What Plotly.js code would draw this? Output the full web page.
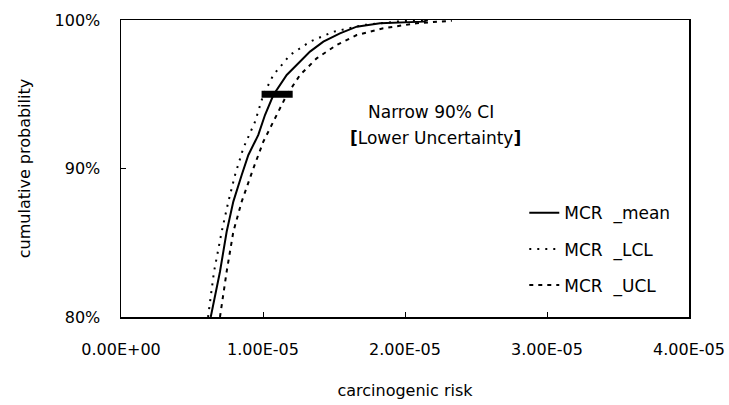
<!DOCTYPE html>
<html>
<head>
<meta charset="utf-8">
<script src="https://cdn.plot.ly/plotly-3.0.1.min.js"></script>
<style>html,body{margin:0;padding:0;background:#fff;}#chart{width:729px;height:405px;}</style>
</head>
<body>
<div id="chart"></div>
<script>
// Cumulative probability (fraction)
const meanProb = [0.800, 0.8305, 0.8574, 0.8777, 0.8956, 0.9091, 0.9226, 0.9360, 0.9495, 0.9630, 0.9697, 0.9787, 0.9854, 0.9910, 0.9955, 0.9978, 0.9989, 1.000];
const meanRisk = [6.32e-6, 6.97e-6, 7.44e-6, 7.91e-6, 8.50e-6, 8.97e-6, 9.67e-6, 1.014e-5, 1.073e-5, 1.167e-5, 1.237e-5, 1.331e-5, 1.425e-5, 1.542e-5, 1.660e-5, 1.824e-5, 2.130e-5, 2.160e-5];

const lclProb = [0.800, 0.8305, 0.8574, 0.8777, 0.8956, 0.9136, 0.9315, 0.9495, 0.9630, 0.9764, 0.9854, 0.9921, 0.9966, 0.9989, 1.000];
const lclRisk = [6.13e-6, 6.55e-6, 7.09e-6, 7.56e-6, 8.03e-6, 8.61e-6, 9.44e-6, 1.002e-5, 1.073e-5, 1.190e-5, 1.331e-5, 1.495e-5, 1.706e-5, 1.940e-5, 2.130e-5];

const uclProb = [0.800, 0.8305, 0.8574, 0.8777, 0.9000, 0.9180, 0.9360, 0.9495, 0.9630, 0.9742, 0.9832, 0.9899, 0.9944, 0.9978, 0.9989, 0.9995];
const uclRisk = [6.97e-6, 7.44e-6, 7.91e-6, 8.50e-6, 9.32e-6, 1.002e-5, 1.096e-5, 1.167e-5, 1.261e-5, 1.378e-5, 1.519e-5, 1.660e-5, 1.847e-5, 2.082e-5, 2.246e-5, 2.330e-5];

// 90% CI bar at the 95th percentile
const ciRisk = [9.9e-6, 1.209e-5];
const ciProb = [0.95, 0.95];

const xTickVals = [0, 1e-5, 2e-5, 3e-5, 4e-5];
const xTickText = ['0.00E+00', '1.00E-05', '2.00E-05', '3.00E-05', '4.00E-05'];
const yTickVals = [0.8, 0.9, 1.0];
const yTickText = ['80%', '90%', '100%'];

const FONT = 'DejaVu Sans, Liberation Sans, Arial, sans-serif';

const traces = [
  {x: meanRisk, y: meanProb, name: 'MCR  _mean', mode: 'lines', legendgroup: 'a',
   line: {color: '#000', width: 2}},
  {x: lclRisk, y: lclProb, name: 'MCR  _LCL', mode: 'lines', legendgroup: 'b',
   line: {color: '#000', width: 2, dash: '2px,6px'}},
  {x: uclRisk, y: uclProb, name: 'MCR  _UCL', mode: 'lines', legendgroup: 'c',
   line: {color: '#000', width: 2, dash: '4px,5px'}},
  {x: ciRisk, y: ciProb, mode: 'lines', showlegend: false, hoverinfo: 'skip',
   line: {color: '#000', width: 7}}
];

const layout = {
  width: 729, height: 405,
  margin: {l: 121, r: 40, t: 20, b: 88, pad: 0},
  paper_bgcolor: '#fff', plot_bgcolor: '#fff',
  font: {family: FONT, size: 16, color: '#000'},
  showlegend: true,
  legend: {x: 0.71, y: 0.41, xanchor: 'left', yanchor: 'top',
           bgcolor: 'rgba(0,0,0,0)', borderwidth: 0,
           font: {family: FONT, size: 17, color: '#000'},
           tracegroupgap: 11},
  xaxis: {range: [0, 4e-5], tickvals: xTickVals, ticktext: xTickText,
          ticks: 'inside', ticklen: 5, tickcolor: '#000', tickwidth: 1,
          showline: true, linecolor: '#000', linewidth: 1.5, mirror: true,
          showgrid: false, zeroline: false, ticklabelstandoff: 17,
          tickfont: {family: FONT, size: 16},
          title: {text: 'carcinogenic risk', font: {family: FONT, size: 16}, standoff: 27}},
  yaxis: {range: [0.8, 1.0], tickvals: yTickVals, ticktext: yTickText,
          ticks: 'inside', ticklen: 5, tickcolor: '#000', tickwidth: 1,
          showline: true, linecolor: '#000', linewidth: 1.5, mirror: true,
          showgrid: false, zeroline: false, ticklabelstandoff: 16,
          tickfont: {family: FONT, size: 16},
          title: {text: 'cumulative probability', font: {family: FONT, size: 16}, standoff: 20}},
  annotations: [
    {xref: 'paper', yref: 'paper', x: 0.546, y: 0.69, text: 'Narrow 90% CI', showarrow: false,
     font: {family: FONT, size: 17}, xanchor: 'center', yanchor: 'middle'},
    {xref: 'paper', yref: 'paper', x: 0.553, y: 0.603, text: '<b>[</b>Lower Uncertainty<b>]</b>', showarrow: false,
     font: {family: FONT, size: 17}, xanchor: 'center', yanchor: 'middle'}
  ]
};

Plotly.newPlot('chart', traces, layout, {displayModeBar: false, staticPlot: true});
</script>
</body>
</html>
